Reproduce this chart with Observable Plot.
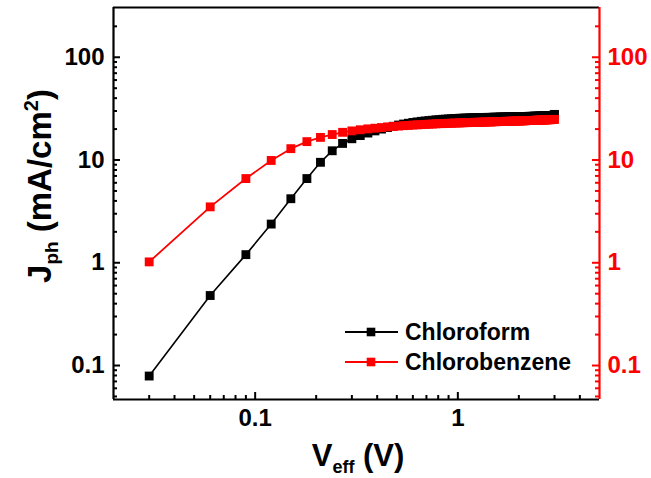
<!DOCTYPE html>
<html>
<head>
<meta charset="utf-8">
<script src="https://cdn.jsdelivr.net/npm/d3@7"></script>
<script src="https://cdn.jsdelivr.net/npm/@observablehq/plot@0.6"></script>
<style>
  html, body { margin: 0; padding: 0; background: #fff; }
  svg { display: block; }
</style>
</head>
<body>
<div id="chart"></div>
<script>
// ---- data ----
const seriesNames = ["Chloroform", "Chlorobenzene"];
const seriesColors = ["#000000", "#ff0000"];

const veff = [0.03,0.06,0.09,0.12,0.15,0.18,0.21,0.24,0.27,0.30,
  0.33,0.36,0.39,0.42,0.45,0.48,0.51,0.54,0.57,0.60,
  0.63,0.66,0.69,0.72,0.75,0.78,0.81,0.84,0.87,0.90,
  0.93,0.96,0.99,1.02,1.05,1.08,1.11,1.14,1.17,1.20,
  1.23,1.26,1.29,1.32,1.35,1.38,1.41,1.44,1.47,1.50,
  1.53,1.56,1.59,1.62,1.65,1.68,1.71,1.74,1.77,1.80,
  1.83,1.86,1.89,1.92,1.95,1.98,2.01,2.04,2.07,2.10,
  2.13,2.16,2.19,2.22,2.25,2.28,2.31,2.34,2.37,2.40,
  2.43,2.46,2.49,2.52,2.55,2.58,2.61,2.64,2.67,2.70,
  2.73,2.76,2.79,2.82,2.85,2.88,2.91,2.94,2.97,3.00];

const jphChloroform = [0.079,0.48,1.2,2.38,4.2,6.6,9.5,12.3,14.5,16.1,
  17.3,18.3,19.2,20.0,20.7,21.3,21.9,22.4,22.8,23.2,
  23.5,23.8,24.0,24.2,24.4,24.6,24.7,24.9,25.0,25.1,
  25.2,25.3,25.4,25.5,25.5,25.6,25.6,25.7,25.7,25.8,
  25.8,25.8,25.9,25.9,25.9,26.0,26.0,26.0,26.0,26.1,
  26.1,26.1,26.1,26.2,26.2,26.2,26.2,26.2,26.3,26.3,
  26.3,26.3,26.3,26.4,26.4,26.4,26.4,26.4,26.5,26.5,
  26.5,26.5,26.5,26.6,26.6,26.6,26.6,26.6,26.7,26.7,
  26.7,26.7,26.7,26.8,26.8,26.8,26.8,26.8,26.9,26.9,
  26.9,26.9,27.0,27.0,27.0,27.1,27.1,27.2,27.3,27.8];

const jphChlorobenzene = [1.02,3.5,6.6,9.9,12.9,15.1,16.6,17.7,18.6,19.2,
  19.7,20.1,20.4,20.7,21.0,21.2,21.4,21.6,21.7,21.9,
  22.0,22.1,22.2,22.3,22.4,22.5,22.6,22.6,22.7,22.8,
  22.8,22.9,22.9,23.0,23.0,23.1,23.1,23.2,23.2,23.2,
  23.3,23.3,23.3,23.4,23.4,23.4,23.5,23.5,23.5,23.6,
  23.6,23.6,23.7,23.7,23.7,23.7,23.8,23.8,23.8,23.8,
  23.9,23.9,23.9,23.9,24.0,24.0,24.0,24.0,24.1,24.1,
  24.1,24.1,24.2,24.2,24.2,24.2,24.3,24.3,24.3,24.3,
  24.4,24.4,24.4,24.4,24.5,24.5,24.5,24.5,24.6,24.6,
  24.6,24.6,24.7,24.7,24.7,24.7,24.8,24.8,24.8,24.9];

// axes / ticks
const xDomain = [0.02, 5];
const yDomain = [0.0467, 305];
const xMajorTicks = [0.1, 1];
const xTickLabels = ["0.1", "1"];
const xMinorTicks = [0.03,0.04,0.05,0.06,0.07,0.08,0.09,0.2,0.3,0.4,0.5,0.6,0.7,0.8,0.9,2,3,4];
const yMajorTicks = [0.1, 1, 10, 100];
const yTickLabels = ["0.1", "1", "10", "100"];
const yMinorTicks = [0.05,0.06,0.07,0.08,0.09,0.2,0.3,0.4,0.5,0.6,0.7,0.8,0.9,
  2,3,4,5,6,7,8,9,20,30,40,50,60,70,80,90,200];

// ---- build table ----
const rows = [];
seriesNames.forEach((name, s) => {
  const ys = s === 0 ? jphChloroform : jphChlorobenzene;
  veff.forEach((v, i) => rows.push({series: name, v, j: ys[i]}));
});
const black = rows.filter(d => d.series === seriesNames[0]);
const red = rows.filter(d => d.series === seriesNames[1]);

const W = 651, H = 478;
const mt = 7, mr = 52, mb = 79, ml = 113;
const fw = W - ml - mr, fh = H - mt - mb;
const FONT = "'Liberation Sans', Arial, Helvetica, sans-serif";
const MAJ = 7, MIN = 4;

const svg = Plot.plot({
  width: W, height: H,
  marginTop: mt, marginRight: mr, marginBottom: mb, marginLeft: ml,
  style: {fontFamily: FONT, background: "#fff"},
  x: {type: "log", domain: xDomain, axis: null},
  y: {type: "log", domain: yDomain, axis: null},
  marks: [
    // data
    Plot.line(black, {x: "v", y: "j", stroke: seriesColors[0], strokeWidth: 1.6}),
    Plot.dot(black, {x: "v", y: "j", symbol: "square", r: 5, fill: seriesColors[0], stroke: "none"}),
    Plot.line(red, {x: "v", y: "j", stroke: seriesColors[1], strokeWidth: 1.8}),
    Plot.dot(red, {x: "v", y: "j", symbol: "square", r: 5, fill: seriesColors[1], stroke: "none"}),
    // ticks (inward)
    Plot.tickX(xMajorTicks, {x: d => d, insetTop: fh - MAJ, stroke: "#000", strokeWidth: 2}),
    Plot.tickX(xMinorTicks, {x: d => d, insetTop: fh - MIN, stroke: "#000", strokeWidth: 2}),
    Plot.tickY(yMajorTicks, {y: d => d, insetRight: fw - MAJ, stroke: "#000", strokeWidth: 2}),
    Plot.tickY(yMinorTicks, {y: d => d, insetRight: fw - MIN, stroke: "#000", strokeWidth: 2}),
    Plot.tickY(yMajorTicks, {y: d => d, insetLeft: fw - MAJ, stroke: seriesColors[1], strokeWidth: 2}),
    Plot.tickY(yMinorTicks, {y: d => d, insetLeft: fw - MIN, stroke: seriesColors[1], strokeWidth: 2}),
    // frame
    Plot.ruleY([yDomain[1]], {stroke: "#000", strokeWidth: 2.2}),
    Plot.ruleY([yDomain[0]], {stroke: "#000", strokeWidth: 2.2}),
    Plot.ruleX([xDomain[0]], {stroke: "#000", strokeWidth: 2.2}),
    Plot.ruleX([xDomain[1]], {stroke: seriesColors[1], strokeWidth: 2.2}),
    // tick labels
    Plot.text(xMajorTicks, {x: d => d, text: (d, i) => xTickLabels[i], frameAnchor: "bottom",
      dy: 19, lineAnchor: "middle", textAnchor: "middle", fontSize: 24, fontWeight: "bold", fill: "#000"}),
    Plot.text(yMajorTicks, {y: d => d, text: (d, i) => yTickLabels[i], frameAnchor: "left",
      dx: -9, lineAnchor: "middle", textAnchor: "end", fontSize: 24, fontWeight: "bold", fill: "#000"}),
    Plot.text(yMajorTicks, {y: d => d, text: (d, i) => yTickLabels[i], frameAnchor: "right",
      dx: 8, lineAnchor: "middle", textAnchor: "start", fontSize: 24, fontWeight: "bold", fill: seriesColors[1]})
  ]
});

const s = d3.select(svg);
// x axis title
const xt = s.append("text")
  .attr("x", ml + fw / 2 + 2).attr("y", 466)
  .attr("text-anchor", "middle")
  .attr("font-family", FONT).attr("font-weight", "bold").attr("font-size", 31).attr("fill", "#000");
xt.append("tspan").text("V");
xt.append("tspan").attr("font-size", 18).attr("dy", 7).text("eff");
xt.append("tspan").attr("dy", -7).text(" (V)");

// y axis title
const yt = s.append("text")
  .attr("transform", `translate(51,${186}) rotate(-90)`)
  .attr("text-anchor", "middle")
  .attr("font-family", FONT).attr("font-weight", "bold").attr("font-size", 33).attr("fill", "#000");
yt.append("tspan").text("J");
yt.append("tspan").attr("font-size", 19).attr("dy", 7).text("ph");
yt.append("tspan").attr("dy", -7).text(" (mA/cm");
yt.append("tspan").attr("font-size", 20).attr("dy", -13).text("2");
yt.append("tspan").attr("dy", 13).text(")");

// legend
const legendY = [332, 362];
seriesNames.forEach((name, i) => {
  const g = s.append("g");
  g.append("line").attr("x1", 345).attr("x2", 398).attr("y1", legendY[i]).attr("y2", legendY[i])
    .attr("stroke", seriesColors[i]).attr("stroke-width", 2);
  g.append("rect").attr("x", 371 - 4.3).attr("y", legendY[i] - 4.3).attr("width", 8.6).attr("height", 8.6)
    .attr("fill", seriesColors[i]);
  g.append("text").attr("x", 405).attr("y", legendY[i] + 8)
    .attr("text-anchor", "start")
    .attr("font-family", FONT).attr("font-weight", "bold").attr("font-size", 23).attr("fill", "#000")
    .text(name);
});

document.getElementById("chart").appendChild(svg);
</script>
</body>
</html>
